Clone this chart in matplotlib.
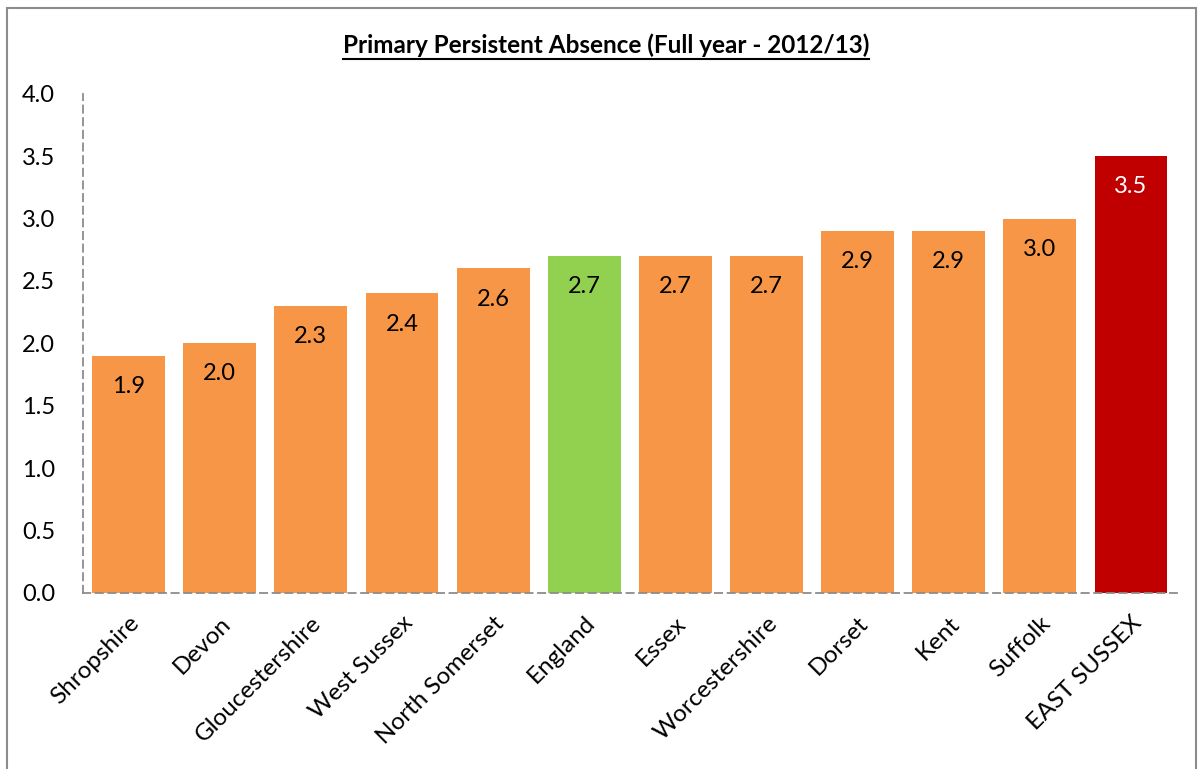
import matplotlib.pyplot as plt
from matplotlib.lines import Line2D
from matplotlib.patches import Rectangle

areas = ['Shropshire', 'Devon', 'Gloucestershire', 'West Sussex', 'North Somerset',
         'England', 'Essex', 'Worcestershire', 'Dorset', 'Kent', 'Suffolk', 'EAST SUSSEX']
absence = [1.9, 2.0, 2.3, 2.4, 2.6, 2.7, 2.7, 2.7, 2.9, 2.9, 3.0, 3.5]
colours = ['#F79646'] * 5 + ['#92D050'] + ['#F79646'] * 5 + ['#C00000']
label_colours = ['black'] * 11 + ['white']
yticks = [0.0, 0.5, 1.0, 1.5, 2.0, 2.5, 3.0, 3.5, 4.0]

plt.rcParams['font.family'] = ['Lato', 'DejaVu Sans']

fig = plt.figure(figsize=(12.03, 7.69), dpi=100)
ax = fig.add_axes([0.069, 0.229, 0.909, 0.649])

x = range(len(areas))
bars = ax.bar(x, absence, width=0.8, color=colours)

for b, v, c in zip(bars, absence, label_colours):
    ax.annotate('%.1f' % v, (b.get_x() + b.get_width() / 2, v),
                xytext=(0, -22), textcoords='offset points',
                ha='center', va='center', fontsize=17, color=c)

ax.set_xlim(-0.5, len(areas) - 0.5)
ax.set_ylim(0, 4.0)
ax.set_yticks(yticks)
ax.set_yticklabels(['%.1f' % t for t in yticks], fontsize=17)
ax.set_xticks(list(x))
ax.set_xticklabels(areas, fontsize=17.5, rotation=45, ha='right', rotation_mode='anchor')
ax.tick_params(axis='both', length=0)
ax.tick_params(axis='y', pad=20)
ax.tick_params(axis='x', pad=14)

for s in ['top', 'right']:
    ax.spines[s].set_visible(False)
for s in ['left', 'bottom']:
    ax.spines[s].set_color('#8c8c8c')
    ax.spines[s].set_linestyle((0, (4, 3)))
    ax.spines[s].set_linewidth(1.3)

title = fig.text(0.504, 0.941, 'Primary Persistent Absence (Full year - 2012/13)',
                 ha='center', va='center', fontsize=17.5, fontweight='bold')

# underline the title
fig.canvas.draw()
bb = title.get_window_extent().transformed(fig.transFigure.inverted())
fig.add_artist(Line2D([bb.x0, bb.x1], [bb.y0 - 0.002, bb.y0 - 0.002],
                      transform=fig.transFigure, color='black', linewidth=1.5))

# chart frame
fig.add_artist(Rectangle((0.006, -0.01), 0.988, 0.999, transform=fig.transFigure,
                         fill=False, edgecolor='#8c8c8c', linewidth=1.5))

fig.savefig('out.png', dpi=100)
